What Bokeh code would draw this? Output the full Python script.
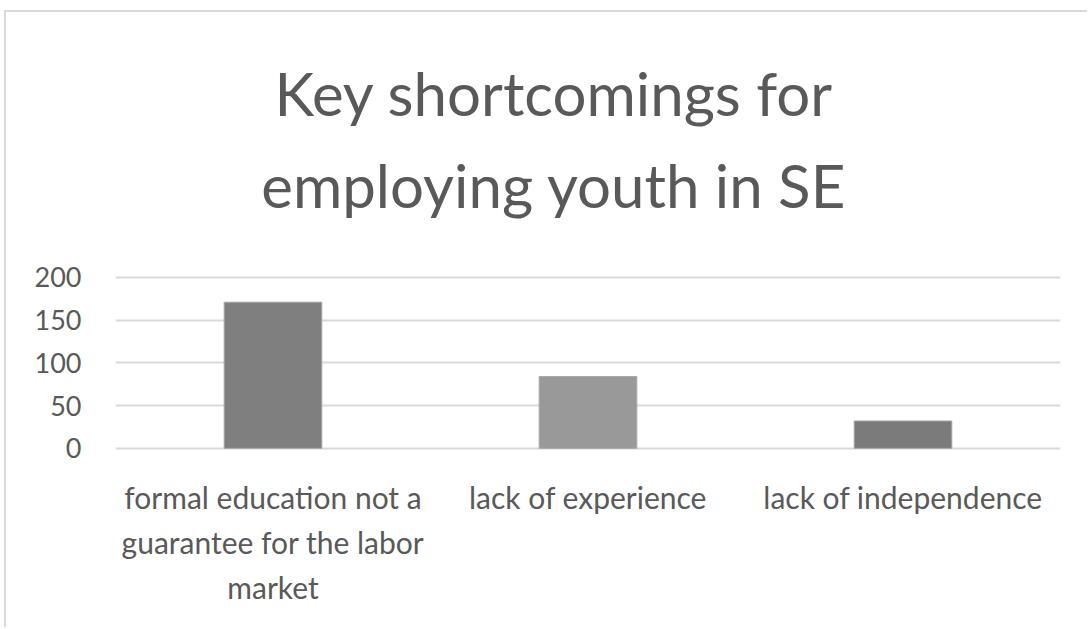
from bokeh.plotting import figure
from bokeh.models import FactorRange, FixedTicker, Range1d
from bokeh.core.properties import value
from bokeh.embed import file_html
from bokeh.resources import INLINE

title_lines = ["Key shortcomings for", "employing youth in SE"]
categories = ["formal education not a guarantee for the labor market",
              "lack of experience", "lack of independence"]
labels = ["formal education not a\nguarantee for the labor\nmarket",
          "lack of experience", "lack of independence"]
values = [171, 84, 32]
colors = ["#7f7f7f", "#999999", "#7b7b7b"]
yticks = [0, 50, 100, 150, 200]

FONT = "Lato"
TXT = "#595959"

# the frame fills the full height; the value axis spans 0..200 in its middle
p = figure(width=1083, height=617, x_range=FactorRange(*categories),
           y_range=Range1d(-212, 510), output_backend="svg", toolbar_location=None,
           min_border_left=109, min_border_right=29, min_border_bottom=0,
           min_border_top=0)

# title (two centred lines above the value axis)
p.text(x=[categories[1]] * 2, y=[yticks[-1]] * 2, text=title_lines,
       x_offset=-34, y_offset=[-184, -92], text_align="center",
       text_baseline="alphabetic", text_font=value(FONT), text_font_size="60px",
       text_color=TXT)

p.vbar(x=categories, top=values, width=0.31, fill_color=colors,
       line_color="#a6a6a6", line_width=1)

# category labels under the baseline
p.text(x=categories, y=[0] * len(categories), text=labels, y_offset=31,
       text_align="center", text_baseline="top", text_font=value(FONT),
       text_font_size="30px", text_color=TXT, text_line_height=1.25)

p.xgrid.visible = False
p.ygrid.grid_line_color = "#d9d9d9"
p.ygrid.grid_line_width = 2
p.yaxis.ticker = FixedTicker(ticks=yticks)
p.yaxis.axis_line_color = None
p.yaxis.major_tick_line_color = None
p.yaxis.minor_tick_line_color = None
p.yaxis.major_label_text_font = FONT
p.yaxis.major_label_text_font_size = "27px"
p.yaxis.major_label_text_color = TXT
p.yaxis.major_label_standoff = 28
p.xaxis.visible = False

p.outline_line_color = None
p.styles = {"border-left": "2px solid #d9d9d9", "border-top": "2px solid #d9d9d9",
            "margin-left": "4px", "margin-top": "10px"}

open("out.html", "w").write(file_html(p, INLINE))
